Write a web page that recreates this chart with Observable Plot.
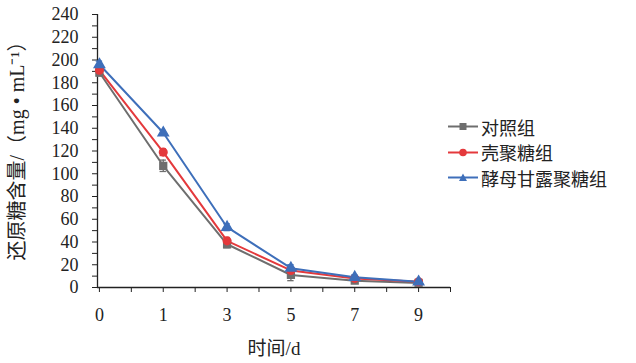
<!DOCTYPE html>
<html>
<head>
<meta charset="utf-8">
<script src="https://cdn.jsdelivr.net/npm/d3@7"></script>
<script src="https://cdn.jsdelivr.net/npm/@observablehq/plot@0.6"></script>
<style>
  body { margin: 0; background: #fff; }
  #wrap { position: relative; width: 636px; height: 363px; font-family: "Liberation Serif", "Noto Sans CJK SC", serif; }
  #legend { position: absolute; left: 448px; top: 114px; font-size: 18px; color: #222; }
  #legend .item { display: flex; align-items: center; height: 25.5px; white-space: nowrap; }
  #legend svg { margin-right: 3px; }
</style>
</head>
<body>
<div id="wrap"><div id="legend"></div></div>
<script>
const days = ["0", "1", "3", "5", "7", "9"];
const seriesNames = ["对照组", "壳聚糖组", "酵母甘露聚糖组"];
const control = [189, 107, 38, 11, 6, 4];
const controlErr = [3, 5, 3, 5, 2, 1];
const chitosan = [191, 119, 41, 15, 8, 5];
const chitosanErr = [3, 3, 3, 3, 2, 2];
const mannan = [196, 136, 53, 17, 9, 5];
const mannanErr = [3, 2, 3, 3, 2, 1];
const colors = ["#6e6e6e", "#e4393c", "#3e6fba"];
const symbols = ["square", "circle", "triangle"];
const yTitle = "还原糖含量/（mg • mL⁻¹）";
const xTitle = "时间/d";

const valueSets = [control, chitosan, mannan];
const errSets = [controlErr, chitosanErr, mannanErr];
const rows = [];
valueSets.forEach((vals, s) => vals.forEach((v, i) => rows.push({
  series: seriesNames[s], i, v, lo: v - errSets[s][i], hi: v + errSets[s][i]
})));
const caps = rows.flatMap(d => [{ ...d, yy: d.lo }, { ...d, yy: d.hi }]);

const xMin = -0.03, xMax = 5.5, capHalf = 0.05;
const fontFam = '"Liberation Serif", "Noto Sans CJK SC", serif';

const chart = Plot.plot({
  width: 636,
  height: 363,
  marginLeft: 97,
  marginRight: 186,
  marginTop: 14,
  marginBottom: 76,
  style: { fontFamily: fontFam, fontSize: "18px", color: "#222", background: "transparent" },
  x: { domain: [xMin, xMax] },
  y: { domain: [0, 240] },
  color: { domain: seriesNames, range: colors },
  symbol: { domain: seriesNames, range: symbols },
  marks: [
    Plot.axisY({ ticks: d3.range(0, 241, 10), tickSize: 5, tickPadding: 14,
      tickFormat: d => d % 20 === 0 ? String(d) : "", label: null, fontSize: 18 }),
    Plot.axisX({ ticks: d3.range(0, 5.51, 0.5), tickSize: 5, tickPadding: 16,
      tickFormat: d => Number.isInteger(d) ? days[d] : "", label: null, fontSize: 18 }),
    Plot.ruleY([0], { stroke: "#222", strokeWidth: 1.3 }),
    Plot.ruleX([xMin], { stroke: "#222", strokeWidth: 1.3 }),
    Plot.line(rows, { x: "i", y: "v", z: "series", stroke: "series", strokeWidth: 2 }),
    Plot.ruleX(rows, { x: "i", y1: "lo", y2: "hi", stroke: "series", strokeWidth: 1.3 }),
    Plot.ruleY(caps, { y: "yy", x1: d => d.i - capHalf, x2: d => d.i + capHalf, stroke: "series", strokeWidth: 1.3 }),
    Plot.dot(rows, { x: "i", y: "v", symbol: "series", fill: "series", stroke: "series", r: 3.8 }),
    Plot.text([yTitle], { frameAnchor: "left", textAnchor: "middle", rotate: -90, dx: -80, dy: -5, fontSize: 20, fontFamily: fontFam, fill: "#222" }),
    Plot.text([xTitle], { frameAnchor: "bottom", textAnchor: "middle", dy: 67, fontSize: 19, fontFamily: fontFam, fill: "#222" })
  ]
});
document.getElementById("wrap").prepend(chart);

const legend = document.getElementById("legend");
const symPaths = {
  square: '<rect x="11.5" y="4" width="7" height="7"/>',
  circle: '<circle cx="15" cy="7.5" r="3.8"/>',
  triangle: '<path d="M15,3.5 L19,11 L11,11 Z"/>'
};
seriesNames.forEach((name, s) => {
  const div = document.createElement("div");
  div.className = "item";
  div.innerHTML = `<svg width="30" height="15"><line x1="0" y1="7.5" x2="30" y2="7.5" stroke="${colors[s]}" stroke-width="2"/><g fill="${colors[s]}">${symPaths[symbols[s]]}</g></svg><span>${name}</span>`;
  legend.appendChild(div);
});
</script>
</body>
</html>
